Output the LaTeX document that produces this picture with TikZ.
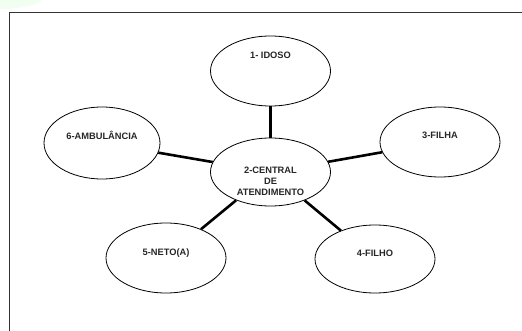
\documentclass[tikz,border=0pt]{standalone}
\usepackage{fontspec}
\setmainfont{Liberation Sans}
\usetikzlibrary{shapes.geometric}
\begin{document}
\begin{tikzpicture}[x=1pt,y=-1pt,
  bubble/.style={ellipse,draw=black,line width=0.8pt,minimum width=120pt,minimum height=70pt,inner sep=0pt},
  txt/.style={font=\fontsize{9.3}{11}\selectfont\bfseries,align=center,text=black!85,inner sep=0pt},
  link/.style={line width=2.6pt,black}]
\useasboundingbox (0,0) rectangle (522,331);
\fill[green!6] (0,0) -- (42,0) .. controls (38,5) and (20,9) .. (0,9) -- cycle;
\draw[line width=1pt,black!80] (9.5,340) -- (9.5,12.5) -- (530,12.5);
\node[bubble,label={[txt,yshift=16pt]center:1- IDOSO}] (idoso) at (270.5,71) {};
\node[bubble,minimum width=116pt,minimum height=72pt,label={[txt,yshift=8pt]center:6-AMBULÂNCIA}] (amb) at (102,143) {};
\node[bubble,label={[txt,yshift=7pt]center:3-FILHA}] (filha) at (440,142) {};
\node[bubble,minimum height=68pt,label={[txt,yshift=-9pt]center:2-CENTRAL\\DE\\ATENDIMENTO}] (central) at (270.5,172) {};
\node[bubble,label={[txt,yshift=5pt]center:5-NETO(A)}] (neto) at (166,258) {};
\node[bubble,minimum height=68pt,label={[txt,yshift=6pt]center:4-FILHO}] (filho) at (375,259) {};
\draw[link] (idoso) -- (central);
\draw[link] (amb) -- (central);
\draw[link] (filha) -- (central);
\draw[link] (neto) -- (central);
\draw[link] (filho) -- (central);
\end{tikzpicture}
\end{document}
